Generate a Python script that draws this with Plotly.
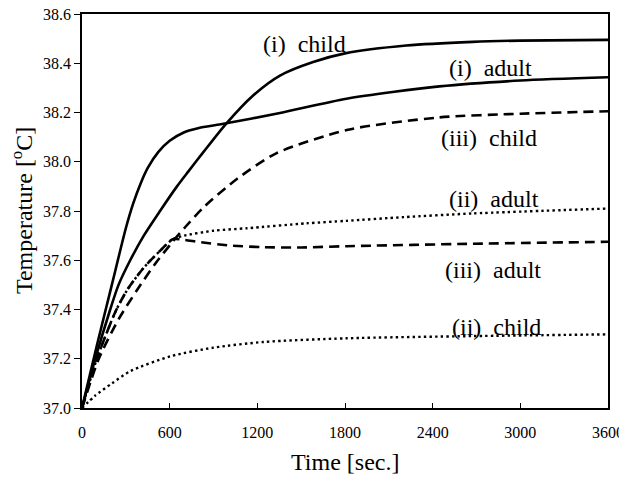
import plotly.graph_objects as go

# (i) child - solid
t_i_child = [0, 91, 193, 250, 330, 423, 534, 650, 727, 832, 980, 1173, 1355, 1582, 1800, 2219, 2673, 3000, 3600]
T_i_child = [37.0, 37.2, 37.4, 37.5, 37.6, 37.7, 37.8, 37.9, 37.96, 38.04, 38.15, 38.27, 38.35, 38.405, 38.44, 38.472, 38.487, 38.492, 38.495]

# (i) adult - solid
t_i_adult = [0, 100, 200, 300, 350, 400, 450, 523, 600, 700, 800, 950, 1355, 1810, 2446, 3000, 3600]
T_i_adult = [37.0, 37.25, 37.49, 37.73, 37.83, 37.91, 37.975, 38.04, 38.085, 38.12, 38.137, 38.152, 38.198, 38.256, 38.306, 38.33, 38.343]

# (ii) adult - dotted
t_ii_adult = [0, 102, 228, 310, 423, 537, 620, 700, 900, 1128, 1537, 1810, 2200, 2673, 3600]
T_ii_adult = [37.0, 37.2, 37.39, 37.48, 37.57, 37.64, 37.685, 37.70, 37.72, 37.73, 37.75, 37.76, 37.775, 37.79, 37.81]

# (ii) child - dotted
t_ii_child = [0, 90, 205, 332, 605, 900, 1241, 1810, 2673, 3600]
T_ii_child = [37.0, 37.05, 37.10, 37.15, 37.21, 37.245, 37.268, 37.283, 37.292, 37.299]

# (iii) child - dashed
t_iii_child = [0, 115, 250, 378, 500, 620, 707, 832, 1060, 1332, 1820, 2446, 3000, 3600]
T_iii_child = [37.0, 37.2, 37.36, 37.48, 37.585, 37.675, 37.735, 37.815, 37.93, 38.035, 38.13, 38.18, 38.195, 38.205]

# (iii) adult - dashed
t_iii_adult = [0, 102, 228, 310, 423, 537, 620, 700, 800, 1014, 1241, 1500, 1810, 2673, 3600]
T_iii_adult = [37.0, 37.2, 37.39, 37.48, 37.57, 37.64, 37.685, 37.683, 37.674, 37.66, 37.653, 37.652, 37.657, 37.667, 37.675]

labels = ["(i)  child", "(i)  adult", "(iii)  child", "(ii)  adult", "(iii)  adult", "(ii)  child"]
label_t = [1525, 2793, 2786, 2820, 2811, 2840]
label_T = [38.48, 38.38, 38.095, 37.85, 37.56, 37.33]

x_ticks = [0, 600, 1200, 1800, 2400, 3000, 3600]
y_ticks = [37.0, 37.2, 37.4, 37.6, 37.8, 38.0, 38.2, 38.4, 38.6]

x_title = "Time [sec.]"
y_title = "Temperature [<sup>o</sup>C]"

SERIF = "Liberation Serif"

fig = go.Figure()
solid = dict(color="black", width=2.6, dash="solid", shape="spline", smoothing=0.7)
dashed = dict(color="black", width=2.6, dash="10px,6px", shape="spline", smoothing=0.7)
dotted = dict(color="black", width=2.4, dash="2.4px,3.2px", shape="spline", smoothing=0.7)

series = [
    (t_i_child, T_i_child, solid),
    (t_i_adult, T_i_adult, solid),
    (t_ii_adult, T_ii_adult, dotted),
    (t_ii_child, T_ii_child, dotted),
    (t_iii_child, T_iii_child, dashed),
    (t_iii_adult, T_iii_adult, dashed),
]
for tx, ty, ln in series:
    fig.add_trace(go.Scatter(x=tx, y=ty, mode="lines", line=ln, showlegend=False, hoverinfo="skip"))

for txt, lx, ly in zip(labels, label_t, label_T):
    fig.add_annotation(x=lx, y=ly, text=txt, showarrow=False, xref="x", yref="y",
                       font=dict(family=SERIF, size=24, color="black"))

# axis titles as paper-positioned text
fig.add_annotation(x=0.5, y=-0.137, xref="paper", yref="paper", text=x_title, showarrow=False,
                   xanchor="center", yanchor="middle", font=dict(family=SERIF, size=24, color="black"))
fig.add_annotation(x=-0.114, y=0.5, xref="paper", yref="paper", text=y_title, showarrow=False,
                   textangle=-90, xanchor="center", yanchor="middle",
                   font=dict(family=SERIF, size=24, color="black"))

# page body has an 8px margin; keep the page within the window (no scrollbars)
fig.update_layout(
    width=619, height=466,
    margin=dict(l=74, r=19, t=6, b=66),
    paper_bgcolor="white", plot_bgcolor="white",
    font=dict(family=SERIF, size=16, color="black"),
)
fig.update_xaxes(
    range=[0, 3600], tickvals=x_ticks, ticktext=[str(v) for v in x_ticks],
    ticks="inside", ticklen=5, tickwidth=1, tickcolor="black",
    tickfont=dict(family=SERIF, size=16, color="black"),
    showline=True, linecolor="black", linewidth=1.5, mirror=True,
    showgrid=False, zeroline=False, ticklabelstandoff=9, automargin=False,
    ticklabeloverflow="allow",
)
fig.update_yaxes(
    range=[37.0, 38.6], tickvals=y_ticks, ticktext=[f"{v:.1f}" for v in y_ticks],
    ticks="outside", ticklen=6, tickwidth=1, tickcolor="black",
    tickfont=dict(family=SERIF, size=16, color="black"),
    showline=True, linecolor="black", linewidth=1.5, mirror=True,
    showgrid=False, zeroline=False, automargin=False,
    ticklabeloverflow="allow",
)
fig.write_html("out.html")
